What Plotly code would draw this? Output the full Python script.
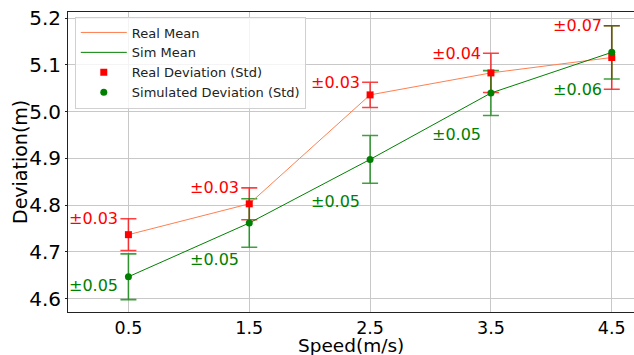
import plotly.graph_objects as go

speeds = [0.5, 1.5, 2.5, 3.5, 4.5]
tick_labels = ["0.5", "1.5", "2.5", "3.5", "4.5"]
real_mean = [4.737, 4.803, 5.036, 5.083, 5.116]
real_std = [0.034, 0.034, 0.027, 0.042, 0.068]
sim_mean = [4.647, 4.762, 4.898, 5.040, 5.127]
sim_std = [0.049, 0.052, 0.051, 0.048, 0.057]
# vertical placement of the green "±std" labels (data units)
sim_label_y = [4.629, 4.684, 4.808, 4.952, 5.048]

FONT = "DejaVu Sans"
RED = "#ff0000"
CORAL = "#ff7f50"
GREEN = "#008000"

fig = go.Figure()

# error bars (drawn beneath everything)
fig.add_trace(go.Scatter(
    x=speeds, y=real_mean, mode="markers", showlegend=False, hoverinfo="skip",
    marker=dict(size=1, opacity=0),
    error_y=dict(type="data", array=real_std, visible=True,
                 color="rgba(255,0,0,0.75)", thickness=1.6, width=8)))
fig.add_trace(go.Scatter(
    x=speeds, y=sim_mean, mode="markers", showlegend=False, hoverinfo="skip",
    marker=dict(size=1, opacity=0),
    error_y=dict(type="data", array=sim_std, visible=True,
                 color="rgba(0,128,0,0.75)", thickness=1.6, width=8)))

# mean lines
fig.add_trace(go.Scatter(x=speeds, y=real_mean, mode="lines", name="Real Mean",
                         line=dict(color=CORAL, width=1)))
fig.add_trace(go.Scatter(x=speeds, y=sim_mean, mode="lines", name="Sim Mean",
                         line=dict(color=GREEN, width=1)))

# markers
fig.add_trace(go.Scatter(x=speeds, y=real_mean, mode="markers",
                         name="Real Deviation (Std)",
                         marker=dict(symbol="square", size=7, color=RED)))
fig.add_trace(go.Scatter(x=speeds, y=sim_mean, mode="markers",
                         name="Simulated Deviation (Std)",
                         marker=dict(symbol="circle", size=7, color=GREEN)))

# annotations
for s, m, sd in zip(speeds, real_mean, real_std):
    fig.add_annotation(x=s, y=m + sd, text=f"±{sd:.2f}", showarrow=False,
                       xanchor="right", yanchor="middle", xshift=-8,
                       font=dict(family=FONT, size=16, color=RED))
for s, ly, sd in zip(speeds, sim_label_y, sim_std):
    fig.add_annotation(x=s, y=ly, text=f"±{sd:.2f}", showarrow=False,
                       xanchor="right", yanchor="middle", xshift=-8,
                       font=dict(family=FONT, size=16, color=GREEN))

# axis titles
fig.add_annotation(x=0.5, y=0, xref="paper", yref="paper", text="Speed(m/s)",
                   showarrow=False, xanchor="center", yanchor="middle", yshift=-33,
                   font=dict(family=FONT, size=18.5, color="black"))
fig.add_annotation(x=0, y=0.5, xref="paper", yref="paper", text="Deviation(m)",
                   showarrow=False, xanchor="center", yanchor="middle",
                   textangle=-90, xshift=-48,
                   font=dict(family=FONT, size=19, color="black"))

fig.update_layout(
    width=634, height=355,
    margin=dict(l=68, r=0, t=12, b=43),
    paper_bgcolor="white", plot_bgcolor="white",
    font=dict(family=FONT, color="black"),
    legend=dict(x=0.012, y=0.985, xanchor="left", yanchor="top",
                bgcolor="rgba(255,255,255,0.8)", bordercolor="#d0d0d0",
                borderwidth=1, font=dict(family=FONT, size=13, color="#222"),
                itemwidth=46, tracegroupgap=0),
)
fig.update_xaxes(
    range=[0, 4.684], tickmode="array", tickvals=speeds, ticktext=tick_labels,
    showgrid=True, gridcolor="#c8c8c8", gridwidth=1, zeroline=False,
    showline=True, linecolor="#222", linewidth=1, mirror=True,
    ticks="", ticklen=0, automargin=False,
    tickfont=dict(family=FONT, size=17.5, color="black"),
)
fig.update_yaxes(
    range=[4.5716, 5.2133], tickmode="array",
    tickvals=[4.6, 4.7, 4.8, 4.9, 5.0, 5.1, 5.2],
    ticktext=["4.6", "4.7", "4.8", "4.9", "5.0", "5.1", "5.2"],
    showgrid=True, gridcolor="#c8c8c8", gridwidth=1, zeroline=False,
    showline=True, linecolor="#222", linewidth=1, mirror=False,
    ticks="outside", ticklen=2, tickcolor="#222", automargin=False,
    tickfont=dict(family=FONT, size=20, color="black"),
)

fig.write_html("out.html")
